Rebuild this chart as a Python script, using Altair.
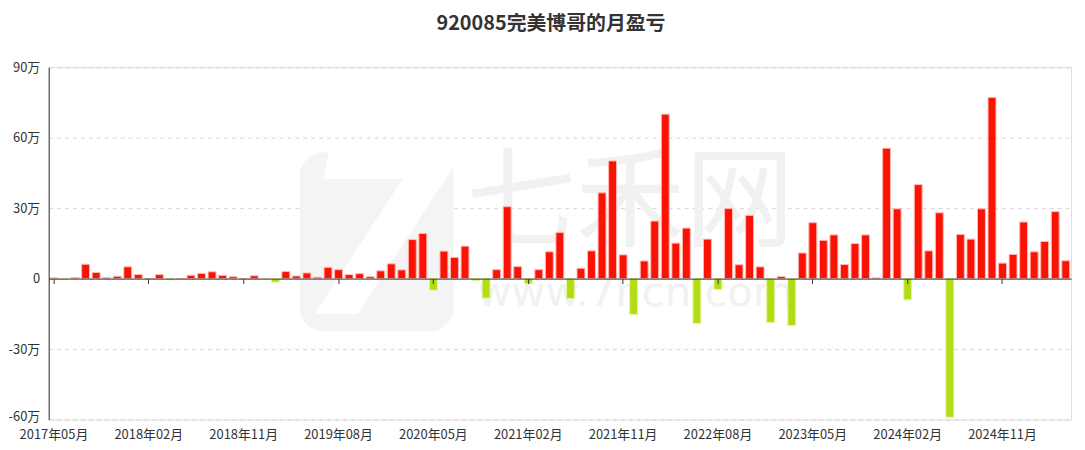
import altair as alt
import pandas as pd

# ---- categories: monthly, 2017-05 .. 2025-05 ----
months = []
_y, _m = 2017, 5
for _ in range(97):
    months.append(f"{_y}年{_m:02d}月")
    _m += 1
    if _m > 12:
        _m = 1
        _y += 1

# monthly profit / loss, unit: 万
values = [
    0.3, -0.3, 0.5, 6.1, 2.6, 0.4, 1.0, 5.0, 1.7, 0.1,
    1.7, -0.6, 0.0, 1.4, 2.2, 2.9, 1.4, 0.8, 0.0, 1.2,
    -0.3, -1.5, 3.0, 1.1, 2.4, 0.6, 4.8, 3.8, 1.7, 2.1,
    0.8, 3.3, 6.3, 3.7, 16.6, 19.2, -4.9, 11.7, 9.0, 13.8,
    -0.9, -8.3, 3.8, 30.6, 5.1, -2.2, 3.8, 11.4, 19.6, -8.5,
    4.4, 11.8, 36.5, 50.1, 10.1, -15.2, 7.5, 24.5, 70.0, 15.1,
    21.5, -19.1, 16.8, -4.6, 29.8, 5.9, 26.9, 5.0, -18.7, 0.9,
    -20.0, 10.9, 23.8, 16.3, 18.6, 6.0, 14.9, 18.6, 0.3, 55.5,
    29.7, -9.0, 40.0, 11.8, 28.0, -59.0, 18.8, 16.8, 29.7, 77.1,
    6.6, 10.3, 24.1, 11.4, 15.8, 28.5, 7.6,
]

label_months = months[::9]
y_ticks = [-60, -30, 0, 30, 60, 90]
title_text = "920085完美博哥的月盈亏"

df = pd.DataFrame({"month": months, "value": values})

RED = "#fa1305"
GREEN = "#b2dc14"
FONT = "Noto Sans CJK SC"
W, H = 1030, 355

xscale = alt.Scale(domain=months, paddingInner=0.25, paddingOuter=0.125)
yscale = alt.Scale(domain=[-60, 90], nice=False, zero=False)

y_enc = alt.Y(
    "value:Q", scale=yscale,
    axis=alt.Axis(
        values=y_ticks, labelExpr="datum.value == 0 ? '0' : datum.value + '万'",
        title=None, grid=True, gridDash=[4, 4], gridColor="#d4d4d4",
        domainColor="#333", ticks=False, labelPadding=9, labelFont=FONT,
        labelFontSize=13, labelColor="#333",
        labelOffset={"condition": {"test": "datum.value == -60", "value": -3}, "value": 0},
    ),
)

wm = pd.DataFrame({"t": [0]})
logo_rect = alt.Chart(wm).mark_rect(cornerRadius=24, color="#f4f4f4").encode(
    x=alt.value(253), x2=alt.value(408), y=alt.value(86), y2=alt.value(266)
)
logo_seven = alt.Chart(wm).mark_text(
    text="7", font="DejaVu Sans", fontSize=230, fontWeight="bold", fontStyle="italic",
    color="#ffffff", baseline="middle", align="center"
).encode(x=alt.value(330), y=alt.value(180))
wm_text = alt.Chart(wm).mark_text(
    text="七禾网", font=FONT, fontSize=110, color="#f1f1f1", baseline="middle", align="center"
).encode(x=alt.value(586), y=alt.value(139))
wm_url = alt.Chart(wm).mark_text(
    text="www.7hcn.com", font="DejaVu Sans", fontSize=42, color="#f1f1f1",
    baseline="middle", align="center"
).encode(x=alt.value(591), y=alt.value(228))

bars = alt.Chart(df).mark_bar(strokeWidth=1).encode(
    x=alt.X(
        "month:N", sort=months, scale=xscale,
        axis=alt.Axis(
            values=label_months, labelAngle=0, domain=False, ticks=False, grid=False,
            title=None, labelFont=FONT, labelFontSize=13, labelColor="#333",
            labelPadding=9, labelOverlap=False,
        ),
    ),
    y=y_enc,
    color=alt.condition("datum.value >= 0", alt.value(RED), alt.value(GREEN)),
    stroke=alt.condition("datum.value >= 0", alt.value("#ffb8b0"), alt.value("#e4f5a0")),
    tooltip=["month", "value"],
)

zero_axis = alt.Chart(df).mark_bar(opacity=0).encode(
    x=alt.X(
        "month:N", sort=months, scale=xscale,
        axis=alt.Axis(
            orient="bottom", offset=-142, values=label_months, labels=False,
            ticks=True, tickSize=5, tickColor="#333", domain=True, domainColor="#333",
            grid=False, title=None, zindex=1,
        ),
    ),
    y=y_enc,
)

chart = (
    alt.layer(logo_rect, logo_seven, wm_text, wm_url, bars, zero_axis)
    .resolve_axis(x="independent")
    .properties(
        width=W, height=H,
        autosize=alt.AutoSizeParams(type="none"),
        padding={"left": 41, "top": 58, "right": 6, "bottom": 21},
        title=alt.TitleParams(
            title_text, font=FONT, fontSize=20, fontWeight="bold", color="#333",
            anchor="middle", dx=-9, offset=27,
        ),
    )
    .configure_view(strokeWidth=0)
    .configure(background="white")
)

chart.save("out.html", embed_options={"renderer": "svg", "actions": False})
